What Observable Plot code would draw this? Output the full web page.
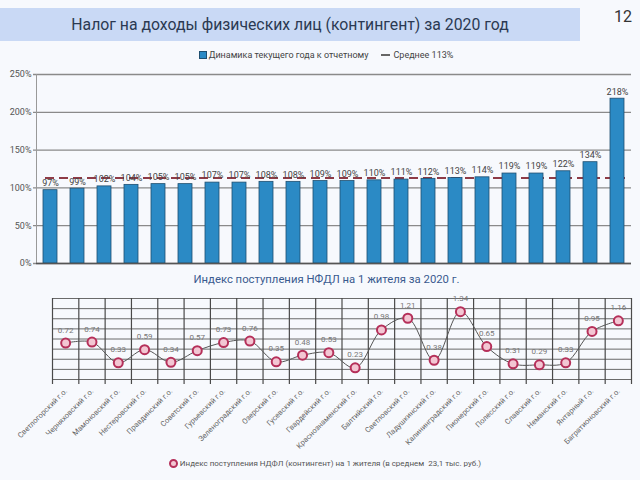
<!DOCTYPE html>
<html><head><meta charset="utf-8">
<script src="https://cdn.jsdelivr.net/npm/d3@7"></script>
<script src="https://cdn.jsdelivr.net/npm/@observablehq/plot@0.6"></script>
<style>
body{margin:0;background:#f7f9fd;font-family:Roboto,"Noto Sans",sans-serif;}
#page{position:relative;width:640px;height:480px;overflow:hidden;background:#f7f9fd;}
.abs{position:absolute;}
#banner{left:0;top:8px;width:580px;height:33px;background:#c9d9f5;line-height:33px;text-align:center;font-size:15.8px;color:#2b3952;}
#pnum{left:614px;top:7px;font-size:16px;color:#333;}
#legTop{left:0;top:50px;width:652px;display:flex;justify-content:center;align-items:center;font-size:9px;color:#444;}
#legTop .sq{display:inline-block;width:6px;height:6px;background:#2b8ac5;border:1px solid #1f4f70;margin-right:2px;}
#legTop .ln{display:inline-block;width:9px;height:1.5px;background:#666;margin:0 4px 0 12px;}
#sub{left:0;top:273px;width:653px;text-align:center;font-size:11.3px;color:#3a5a8f;}
#legBot{left:0;top:459px;width:650px;display:flex;justify-content:center;align-items:center;font-size:8px;color:#555;}
#legBot .c{display:inline-block;width:5px;height:5px;border-radius:50%;background:#f3c6d3;border:2px solid #b5305a;margin-right:2px;}
#topChart,#botChart{left:0;}
#topChart{top:64px;}
#botChart{top:290px;}
</style></head>
<body>
<div id="page">
  <div id="banner" class="abs">Налог на доходы физических лиц (контингент) за 2020 год</div>
  <div id="pnum" class="abs">12</div>
  <div id="legTop" class="abs"><span class="sq"></span>Динамика текущего года к отчетному<span class="ln"></span>Среднее 113%</div>
  <div id="topChart" class="abs"></div>
  <div id="sub" class="abs">Индекс поступления НФДЛ на 1 жителя за 2020 г.</div>
  <div id="botChart" class="abs"></div>
  <div id="legBot" class="abs"><span class="c"></span>Индекс поступления НДФЛ (контингент) на 1 жителя (в среднем&nbsp; 23,1 тыс. руб.)</div>
</div>
<script>
const categories = ["Светлогорский г.о.","Черняховский г.о.","Мамоновский г.о.","Нестеровский г.о.","Правдинский г.о.","Советский г.о.","Гурьевский г.о.","Зеленоградский г.о.","Озерский г.о.","Гусевский г.о.","Гвардейский г.о.","Краснознаменский г.о.","Балтийский г.о.","Светловский г.о.","Ладушкинский г.о.","Калининградский г.о.","Пионерский г.о.","Полесский г.о.","Славский г.о.","Неманский г.о.","Янтарный г.о.","Багратионовский г.о."];
const dynamics = [97,99,102,104,105,105,107,107,108,108,109,109,110,111,112,113,114,119,119,122,134,218];
const averageDynamics = 113;
const perCapitaIndex = [0.72,0.74,0.33,0.59,0.34,0.57,0.73,0.76,0.35,0.48,0.53,0.23,0.98,1.21,0.38,1.34,0.65,0.31,0.29,0.33,0.95,1.16];
const yTicksTop = [0,50,100,150,200,250];
const yGridBottom = [0,0.2,0.4,0.6,0.8,1.0,1.2,1.4,1.6];

const barRows = categories.map((c,i)=>({c, v: dynamics[i]}));
const lineRows = categories.map((c,i)=>({i, c, v: perCapitaIndex[i]}));
const boundaries = d3.range(categories.length+1).map(i=>i-0.5);

const topPlot = Plot.plot({
  width: 640, height: 210,
  marginTop: 10, marginBottom: 11, marginLeft: 36, marginRight: 9,
  style: {background: "transparent", fontFamily: "Roboto, sans-serif"},
  x: {domain: categories, paddingInner: 0.5, paddingOuter: 0.25, axis: null},
  y: {domain: [0,250], ticks: yTicksTop, label: null},
  marks: [
    Plot.ruleY(yTicksTop, {stroke: "#8a8a8a", strokeWidth: 1.3, insetLeft: -3}),
    Plot.frame({anchor: "left", stroke: "#999"}),
    Plot.axisY({ticks: yTicksTop, tickSize: 0, tickPadding: 5, tickFormat: d => d + "%", fontSize: 9, fill: "#555", label: null}),
    Plot.ruleY([averageDynamics], {stroke: "#8e3b46", strokeWidth: 2, strokeDasharray: "9,5", insetLeft: 9, insetRight: 6}),
    Plot.barY(barRows, {x: "c", y: "v", fill: "#2b8ac5", stroke: "#1f4f70", strokeWidth: 0.8}),
    Plot.ruleY([0], {stroke: "#555", strokeWidth: 1.5}),
    Plot.text(barRows, {x: "c", y: "v", text: d => d.v + "%", dy: -7, fontSize: 9, fill: "#444"})
  ]
});
document.getElementById("topChart").appendChild(topPlot);

const botPlot = Plot.plot({
  width: 640, height: 190,
  marginTop: 8, marginBottom: 101, marginLeft: 52, marginRight: 9,
  style: {background: "transparent", fontFamily: "Roboto, sans-serif", overflow: "visible"},
  x: {domain: [-0.5, categories.length - 0.5], axis: null},
  y: {domain: [0, 1.6], axis: null},
  marks: [
    Plot.ruleY(yGridBottom, {stroke: "#6a6a6a", strokeWidth: 1}),
    Plot.ruleX(boundaries, {stroke: "#4a4a4a", strokeWidth: 1.2, insetBottom: -5}),
    Plot.line(lineRows, {x: "i", y: "v", curve: "catmull-rom", stroke: "#555", strokeWidth: 1}),
    Plot.dot(lineRows, {x: "i", y: "v", r: 4.5, fill: "#f3c6d3", stroke: "#b5305a", strokeWidth: 2}),
    Plot.text(lineRows, {x: "i", y: "v", text: d => d.v.toFixed(2), dy: -13, fontSize: 8, fill: "#777"}),
    Plot.text(lineRows, {x: "i", frameAnchor: "bottom", text: "c", rotate: -45, textAnchor: "end", dy: 12, dx: 2, fontSize: 7.5, fill: "#666"})
  ]
});
document.getElementById("botChart").appendChild(botPlot);
</script>
</body></html>
